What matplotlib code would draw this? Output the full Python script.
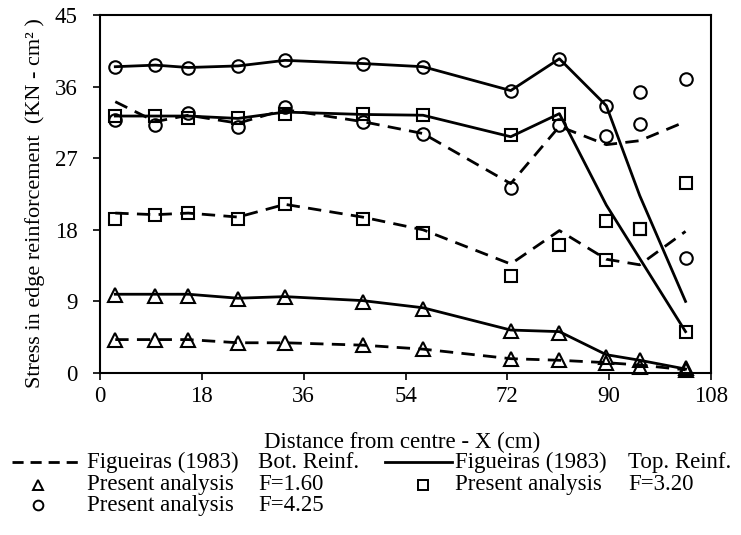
import matplotlib
matplotlib.use("Agg")
import matplotlib.pyplot as plt
from matplotlib.lines import Line2D

plt.rcParams["font.family"] = ["Liberation Serif", "DejaVu Serif"]
plt.rcParams["font.size"] = 16.5

W, H = 741, 535  # figure size in pixels at dpi 100

# distance from centre (cm)
x_cm = [2.7, 9.8, 15.6, 24.4, 32.7, 46.4, 57.1, 72.6, 81.2, 89.5, 95.4, 103.5]

# Figueiras (1983), top reinforcement (solid lines)
fig_top_160 = [9.9, 9.9, 9.9, 9.4, 9.6, 9.1, 8.2, 5.4, 5.2, 2.3, 1.6, 0.5]
fig_top_320 = [32.3, 32.3, 32.3, 32.0, 32.8, 32.5, 32.4, 29.7, 32.6, 21.1, 14.4, 5.2]
fig_top_425 = [38.5, 38.7, 38.4, 38.6, 39.3, 38.9, 38.5, 35.5, 39.5, 33.6, 22.3, 9.0]

# Figueiras (1983), bottom reinforcement (dashed lines)
fig_bot_160 = [4.2, 4.2, 4.2, 3.8, 3.8, 3.5, 3.0, 1.8, 1.6, 1.3, 1.0, 0.4]
fig_bot_320 = [20.1, 19.9, 20.1, 19.6, 21.2, 19.6, 18.0, 13.7, 17.9, 14.3, 13.6, 17.8]
fig_bot_425 = [34.1, 31.6, 32.4, 31.4, 33.1, 31.6, 30.1, 23.8, 31.0, 28.7, 29.2, 31.6]

# present analysis, top and bottom reinforcement
pa_top_160 = [9.8, 9.7, 9.7, 9.3, 9.5, 8.9, 8.1, 5.3, 5.0, 2.0, 1.6, 0.6]
pa_bot_160 = [4.2, 4.2, 4.2, 3.8, 3.8, 3.5, 3.0, 1.8, 1.6, 1.2, 0.8, 0.4]
pa_top_320 = [32.3, 32.3, 32.1, 32.0, 32.6, 32.6, 32.4, 29.9, 32.6, 19.1, 18.1, 5.1]
pa_bot_320 = [19.4, 19.8, 20.1, 19.4, 21.2, 19.4, 17.6, 12.2, 16.1, 14.2, 18.1, 23.9]
pa_top_425 = [38.5, 38.7, 38.4, 38.6, 39.3, 38.9, 38.5, 35.5, 39.5, 33.6, 35.3, 36.9]
pa_bot_425 = [31.8, 31.2, 32.7, 30.9, 33.4, 31.5, 30.0, 23.2, 31.2, 29.8, 31.3, 14.5]

x_ticks = [0, 18, 36, 54, 72, 90, 108]
y_ticks = [0, 9, 18, 27, 36, 45]

DASH = (0, (4.8, 3.0))
LW = 2.0


def fx(px):
    return px / W


def fy(py):
    return 1 - py / H


fig = plt.figure(figsize=(W / 100, H / 100), dpi=100)
ax = fig.add_axes([fx(100), fy(373), 611 / W, 358 / H])

for ys in (fig_top_160, fig_top_320, fig_top_425):
    ax.plot(x_cm, ys, color="black", lw=LW)
for ys in (fig_bot_160, fig_bot_320, fig_bot_425):
    ax.plot(x_cm, ys, color="black", lw=LW, ls=DASH)

mk = dict(ls="none", mfc="none", mec="black", mew=1.5, clip_on=False, zorder=3)
for ys in (pa_top_160, pa_bot_160):
    ax.plot(x_cm, ys, marker="^", ms=10, **mk)
for ys in (pa_top_320, pa_bot_320):
    ax.plot(x_cm, ys, marker="s", ms=8.5, **mk)
for ys in (pa_top_425, pa_bot_425):
    ax.plot(x_cm, ys, marker="o", ms=9, **mk)

ax.set_xlim(0, 108)
ax.set_ylim(0, 45)
ax.set_xticks(x_ticks)
ax.set_yticks(y_ticks)
ax.tick_params(direction="out", length=5, width=1.2, top=False, right=False)
ax.tick_params(axis="y", pad=11)
ax.tick_params(axis="x", pad=4)
for sp in ax.spines.values():
    sp.set_linewidth(1.5)

ax.set_ylabel("Stress in edge reinforcement  (KN - cm\u00b2 )", fontsize=16)
ax.yaxis.set_label_coords(-0.09, 0.475)

fig.text(fx(402), fy(448), "Distance from centre - X (cm)", ha="center", va="baseline")

# legend, laid out by hand in two columns
def legend_line(x0, x1, y, **kw):
    fig.add_artist(Line2D([fx(x0), fx(x1)], [fy(y), fy(y)], transform=fig.transFigure,
                          color="black", lw=LW, **kw))


def legend_marker(x, y, marker, ms):
    fig.add_artist(Line2D([fx(x)], [fy(y)], transform=fig.transFigure, ls="none",
                          marker=marker, ms=ms, mfc="none", mec="black", mew=1.4))


def legend_text(x_a, x_b, y, a, b):
    fig.text(fx(x_a), fy(y), a, ha="left", va="baseline")
    fig.text(fx(x_b), fy(y), b, ha="left", va="baseline")


legend_line(12, 78, 462, ls=(0, (4.0, 2.5)))
legend_text(87, 258, 468, "Figueiras (1983)", "Bot. Reinf.")
legend_line(385, 452, 462)
legend_text(455, 628, 468, "Figueiras (1983)", "Top. Reinf.")
legend_marker(38, 485, "^", 7.5)
legend_text(87, 258, 490, "Present analysis", "F=1.60")
legend_marker(423, 485, "s", 6.5)
legend_text(455, 628, 490, "Present analysis", "F=3.20")
legend_marker(38, 505, "o", 7)
legend_text(87, 258, 511, "Present analysis", "F=4.25")

fig.savefig("out.png", dpi=100)
plt.close(fig)
